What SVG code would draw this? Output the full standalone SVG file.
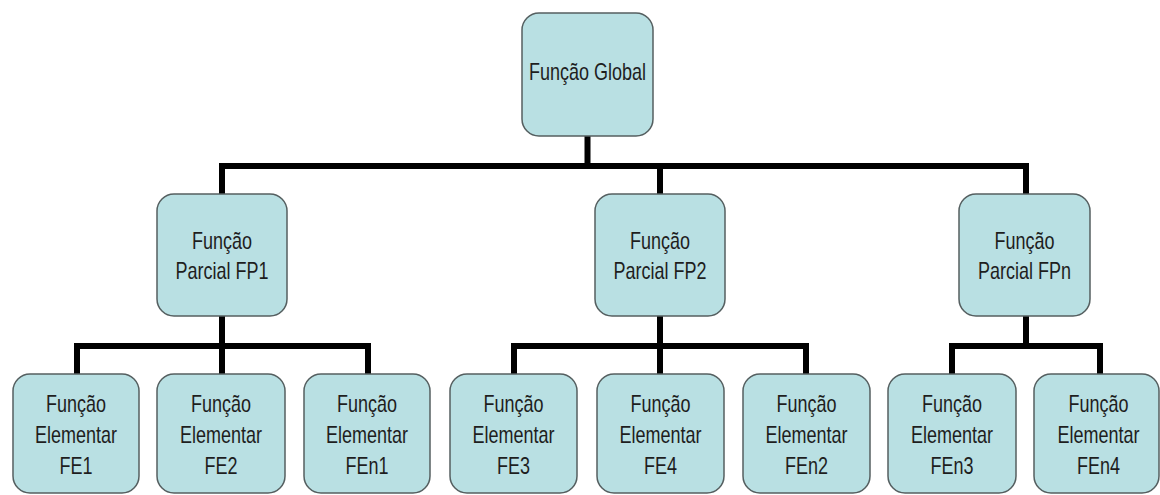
<svg xmlns="http://www.w3.org/2000/svg" width="1160" height="495" viewBox="0 0 1160 495">
<style>
.box{fill:#b9e0e3;stroke:#555f60;stroke-width:1.5}
.lbl{font-family:"Liberation Sans",Arial,sans-serif;font-size:18px;fill:#1e1e1e;text-anchor:middle}
.con{fill:none;stroke:#000;stroke-width:6;stroke-linejoin:miter;stroke-linecap:butt}
</style>
<rect width="1160" height="495" fill="#fff"/>
<g id="connectors">
<path class="con" d="M587.5 136V166M222 166H1026M222 163V194M660 166V194M1026 163V194"/>
<path class="con" d="M222 316V346M77 346H368M77 343V374M222 346V374M368 343V374"/>
<path class="con" d="M660 316V346M514 346H806M514 343V374M660 346V374M806 343V374"/>
<path class="con" d="M1026 316V346M952 346H1100M952 343V374M1100 343V374"/>
</g>
<g id="fg"><rect class="box" x="522" y="13" width="131" height="123" rx="17"/><text class="lbl" transform="matrix(1 0 0 1.3 587.5 80)">Função Global</text></g>
<g id="fp1"><rect class="box" x="157" y="194" width="130" height="122" rx="17"/><text class="lbl" transform="matrix(1 0 0 1.3 222 248.5)"><tspan x="0" y="0">Função</tspan><tspan x="0" y="23.1">Parcial FP1</tspan></text></g>
<g id="fp2"><rect class="box" x="595" y="194" width="130" height="122" rx="17"/><text class="lbl" transform="matrix(1 0 0 1.3 660 248.5)"><tspan x="0" y="0">Função</tspan><tspan x="0" y="23.1">Parcial FP2</tspan></text></g>
<g id="fpn"><rect class="box" x="959" y="194" width="131" height="122" rx="17"/><text class="lbl" transform="matrix(1 0 0 1.3 1024.5 248.5)"><tspan x="0" y="0">Função</tspan><tspan x="0" y="23.1">Parcial FPn</tspan></text></g>
<g id="fe1"><rect class="box" x="13" y="374" width="126" height="119" rx="17"/><text class="lbl" transform="matrix(1 0 0 1.3 76 412)"><tspan x="0" y="0">Função</tspan><tspan x="0" y="23.8">Elementar</tspan><tspan x="0" y="47.6">FE1</tspan></text></g>
<g id="fe2"><rect class="box" x="157" y="374" width="128" height="119" rx="17"/><text class="lbl" transform="matrix(1 0 0 1.3 221 412)"><tspan x="0" y="0">Função</tspan><tspan x="0" y="23.8">Elementar</tspan><tspan x="0" y="47.6">FE2</tspan></text></g>
<g id="fen1"><rect class="box" x="304" y="374" width="126" height="119" rx="17"/><text class="lbl" transform="matrix(1 0 0 1.3 367 412)"><tspan x="0" y="0">Função</tspan><tspan x="0" y="23.8">Elementar</tspan><tspan x="0" y="47.6">FEn1</tspan></text></g>
<g id="fe3"><rect class="box" x="450" y="374" width="127" height="119" rx="17"/><text class="lbl" transform="matrix(1 0 0 1.3 513.5 412)"><tspan x="0" y="0">Função</tspan><tspan x="0" y="23.8">Elementar</tspan><tspan x="0" y="47.6">FE3</tspan></text></g>
<g id="fe4"><rect class="box" x="597" y="374" width="127" height="119" rx="17"/><text class="lbl" transform="matrix(1 0 0 1.3 660.5 412)"><tspan x="0" y="0">Função</tspan><tspan x="0" y="23.8">Elementar</tspan><tspan x="0" y="47.6">FE4</tspan></text></g>
<g id="fen2"><rect class="box" x="743" y="374" width="127" height="119" rx="17"/><text class="lbl" transform="matrix(1 0 0 1.3 806.5 412)"><tspan x="0" y="0">Função</tspan><tspan x="0" y="23.8">Elementar</tspan><tspan x="0" y="47.6">FEn2</tspan></text></g>
<g id="fen3"><rect class="box" x="888" y="374" width="128" height="119" rx="17"/><text class="lbl" transform="matrix(1 0 0 1.3 952 412)"><tspan x="0" y="0">Função</tspan><tspan x="0" y="23.8">Elementar</tspan><tspan x="0" y="47.6">FEn3</tspan></text></g>
<g id="fen4"><rect class="box" x="1034" y="374" width="125" height="119" rx="17"/><text class="lbl" transform="matrix(1 0 0 1.3 1098.5 412)"><tspan x="0" y="0">Função</tspan><tspan x="0" y="23.8">Elementar</tspan><tspan x="0" y="47.6">FEn4</tspan></text></g>
</svg>
